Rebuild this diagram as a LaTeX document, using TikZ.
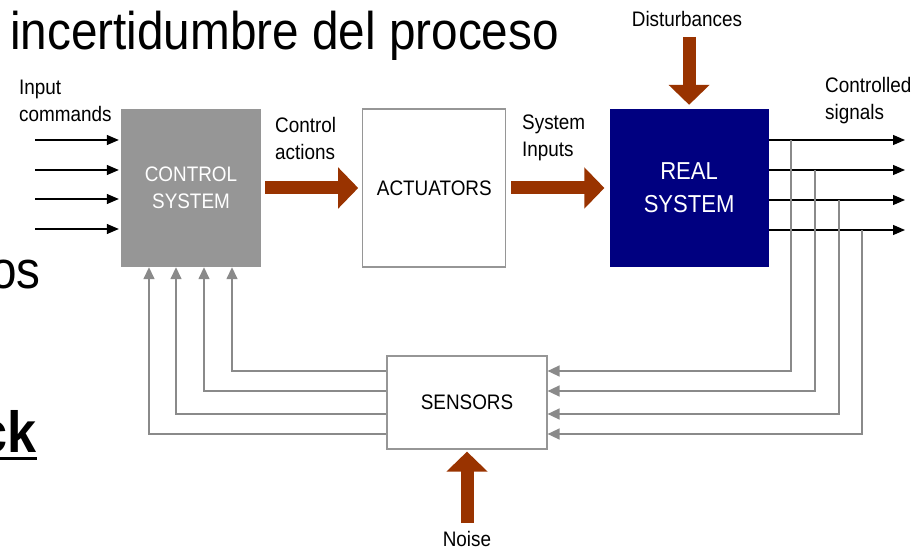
\documentclass[tikz,border=0pt]{standalone}
\usepackage{fontspec}
\setmainfont{Liberation Sans}[FakeStretch=0.9]
\usetikzlibrary{arrows.meta, positioning, calc}
\definecolor{ctrlGray}{RGB}{150, 150, 150}
\definecolor{realNavy}{RGB}{0, 0, 128}
\definecolor{rustBrown}{RGB}{153, 51, 0}
\definecolor{wireGray}{RGB}{138, 138, 138}
\definecolor{edgeGray}{RGB}{150, 150, 150}
% heavy underline for the big bold word
\newcommand\thickul[1]{\leavevmode\setbox0\hbox{#1}\rlap{\copy0}\raisebox{-8bp}{\rule{\wd0}{3bp}}}

\begin{document}
\begin{tikzpicture}[
  x=1bp, y=-1bp,
  font=\fontsize{21bp}{27bp}\selectfont,
  box/.style={rectangle, minimum height=158bp, inner sep=0pt, align=center},
  plain/.style={box, draw=edgeGray, line width=1.2bp, fill=white},
  txt/.style={inner sep=0pt, align=left},
  bigflow/.style={draw=rustBrown, line width=13bp, -{Triangle[length=20bp, width=40bp]}},
  signal/.style={draw=black, line width=1.2bp, -{Triangle[length=12bp, width=10bp]}},
  feedback/.style={draw=wireGray, line width=1.5bp, -{Triangle[length=12bp, width=11bp]}}
]
  \useasboundingbox (0,0) rectangle (920,550);

  % Slide text around the diagram
  \node[txt, anchor=base west, font=\fontsize{53bp}{60bp}\selectfont] (title) at (10,50) {incertidumbre del proceso};
  \node[txt, anchor=base east, font=\fontsize{53bp}{60bp}\selectfont] (os) at (41,289) {os};
  \node[txt, anchor=base east, font=\fontsize{58bp}{64bp}\selectfont\bfseries] (ck) at (37,452) {\thickul{ck}};

  % Blocks
  \node[box, fill=ctrlGray, text=white, minimum width=140bp] (ctrl) at (191,188) {CONTROL\\SYSTEM};
  \node[plain, minimum width=143bp, right=101bp of ctrl] (act) {ACTUATORS};
  \node[box, fill=realNavy, text=white, minimum width=159bp, font=\fontsize{24.5bp}{33bp}\selectfont, right=103bp of act] (real) {REAL\\SYSTEM};
  \node[plain, minimum width=160bp, minimum height=93bp] (sens) at (467,402.5) {SENSORS};

  % Labels
  \node[txt, anchor=west] (cmd) at (19,101) {Input\\commands};
  \node[txt, anchor=west] (ca) at (275,138) {Control\\actions};
  \node[txt, anchor=west] (si) at (522,138) {System\\Inputs};
  \node[txt, anchor=west] (cs) at (825,101) {Controlled\\signals};
  \node[txt] (dist) at (687,19) {Disturbances};
  \node[txt] (noise) at (467,539) {Noise};

  % Main flow
  \draw[bigflow, shorten <=4bp, shorten >=4bp] (ctrl) -- (act);
  \draw[bigflow, shorten <=5bp, shorten >=5bp] (act) -- (real);
  \draw[bigflow, shorten <=10bp, shorten >=4bp] (dist.south -| real.north) -- (real.north);
  \draw[bigflow, shorten <=8bp, shorten >=2bp] (noise) -- (sens);

  % Commands in, signals out
  \foreach \y [count=\i] in {140,170,199,229} {
    \coordinate (in\i) at (35,\y);
    \draw[signal, shorten >=2bp] (in\i) -- (in\i -| ctrl.west);
  }
  \foreach \y [count=\i] in {140,170,200,230} {
    \coordinate (out\i) at (905,\y);
    \draw[signal] (out\i -| real.east) -- (out\i);
  }

  % Measured signals back to the sensors
  \foreach \x/\y [count=\i] in {791/371, 815/391, 839/414, 862/434} {
    \coordinate (tap\i) at (\x,\y);
    \draw[feedback] (out\i -| tap\i) |- (tap\i -| sens.east);
  }

  % Sensor readings up to the controller
  \foreach \x/\y [count=\i] in {232/371, 204/391, 176/414, 149/434} {
    \coordinate (fb\i) at (\x,\y);
    \draw[feedback] (fb\i -| sens.west) -| (fb\i |- ctrl.south);
  }
\end{tikzpicture}
\end{document}
